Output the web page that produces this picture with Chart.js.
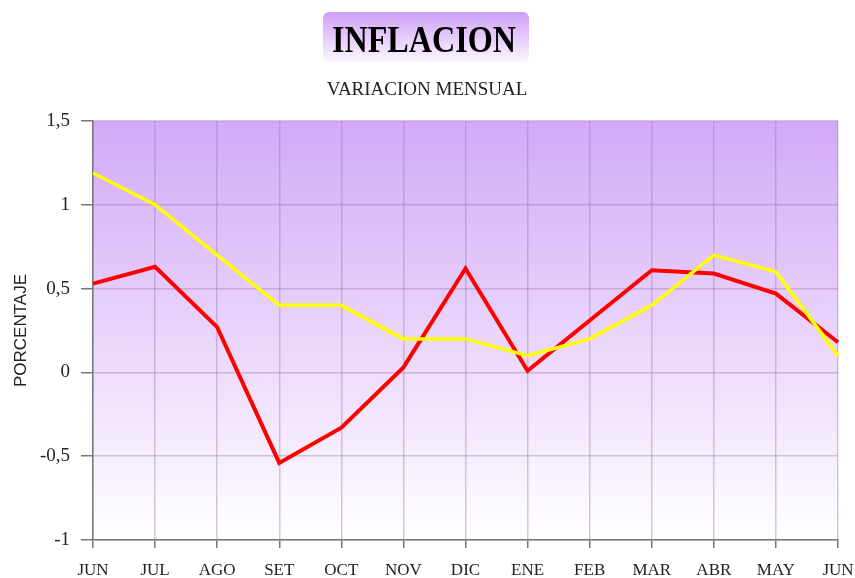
<!DOCTYPE html>
<html>
<head>
<meta charset="utf-8">
<script src="https://cdn.jsdelivr.net/npm/chart.js@4"></script>
<style>
  html, body { margin: 0; padding: 0; background: #fff; }
  #wrap { width: 855px; height: 578px; }
</style>
</head>
<body>
<div id="wrap"><canvas id="chart" width="855" height="578"></canvas></div>
<script>
// Data
const months = ['JUN', 'JUL', 'AGO', 'SET', 'OCT', 'NOV', 'DIC', 'ENE', 'FEB', 'MAR', 'ABR', 'MAY', 'JUN'];
const yellowSeries = [1.19, 1.0, 0.7, 0.4, 0.4, 0.2, 0.2, 0.1, 0.2, 0.4, 0.7, 0.6, 0.1];
const redSeries = [0.53, 0.63, 0.27, -0.54, -0.33, 0.03, 0.62, 0.01, 0.31, 0.61, 0.59, 0.47, 0.18];
const yTicks = [-1, -0.5, 0, 0.5, 1, 1.5];
const titleText = 'INFLACION';
const subtitleText = 'VARIACION MENSUAL';

// Background gradient for the plot area, title box and the (condensed) titles
const decor = {
    id: 'decor',
    beforeDraw(chart) {
        const { ctx, chartArea: a } = chart;
        ctx.save();
        const g = ctx.createLinearGradient(0, a.top, 0, a.bottom);
        g.addColorStop(0, '#d3a9f7');
        g.addColorStop(1, '#ffffff');
        ctx.fillStyle = g;
        ctx.fillRect(a.left, a.top, a.right - a.left, a.bottom - a.top);

        // title box
        const x = 323, y = 12, w = 206, h = 50;
        const tg = ctx.createLinearGradient(0, y, 0, y + h);
        tg.addColorStop(0, '#cf9ff6');
        tg.addColorStop(1, '#fbf6ff');
        ctx.fillStyle = tg;
        ctx.beginPath();
        ctx.roundRect(x, y, w, h, 6);
        ctx.fill();
        ctx.restore();
    },
    afterDraw(chart) {
        const { ctx } = chart;
        ctx.save();
        ctx.textAlign = 'center';
        ctx.textBaseline = 'alphabetic';

        ctx.save();
        ctx.translate(424, 52);
        ctx.scale(0.87, 1);
        ctx.fillStyle = '#000';
        ctx.font = 'bold 37px "Liberation Serif"';
        ctx.fillText(titleText, 0, 0);
        ctx.restore();

        ctx.fillStyle = '#222';
        ctx.font = '19px "Liberation Serif"';
        ctx.fillText(subtitleText, 427, 95);
        ctx.restore();
    }
};

const ctx = document.getElementById('chart').getContext('2d');
new Chart(ctx, {
    type: 'line',
    data: {
        labels: months,
        datasets: [
            {
                label: 'Yellow',
                data: yellowSeries,
                borderColor: '#ffff00',
                borderWidth: 3.5,
                pointRadius: 0,
                tension: 0
            },
            {
                label: 'Red',
                data: redSeries,
                borderColor: '#ff0000',
                borderWidth: 4,
                pointRadius: 0,
                tension: 0
            }
        ]
    },
    options: {
        responsive: false,
        animation: false,
        layout: { padding: { left: 0, right: 17, top: 121, bottom: 0 } },
        plugins: {
            legend: { display: false },
            tooltip: { enabled: false },
            title: { display: false },
            subtitle: { display: false }
        },
        scales: {
            x: {
                offset: false,
                afterFit(axis) {
                    axis.height = 38;
                    axis.paddingLeft = 0;
                    axis.paddingRight = 0;
                },
                grid: {
                    offset: false,
                    color: 'rgba(150, 120, 175, 0.4)',
                    lineWidth: 1.5,
                    tickLength: 8,
                    tickColor: '#777'
                },
                border: { color: '#777', width: 1.5 },
                ticks: {
                    color: '#222',
                    padding: 12,
                    maxRotation: 0,
                    autoSkip: false,
                    font: { family: 'Liberation Serif', size: 17 }
                }
            },
            y: {
                min: -1,
                max: 1.5,
                afterBuildTicks(axis) { axis.ticks = yTicks.map(v => ({ value: v })); },
                afterFit(axis) { axis.width = 93; },
                grid: {
                    color: 'rgba(150, 120, 175, 0.4)',
                    lineWidth: 1.5,
                    tickLength: 12,
                    tickColor: '#777'
                },
                border: { color: '#777', width: 1.5 },
                ticks: {
                    color: '#222',
                    padding: 11,
                    font: { family: 'Liberation Serif', size: 19 },
                    callback: v => String(v).replace('.', ',')
                },
                title: {
                    display: true,
                    text: 'PORCENTAJE',
                    color: '#222',
                    font: { family: 'Liberation Sans', size: 17 },
                    padding: { top: 11, bottom: 4 }
                }
            }
        }
    },
    plugins: [decor]
});
</script>
</body>
</html>
